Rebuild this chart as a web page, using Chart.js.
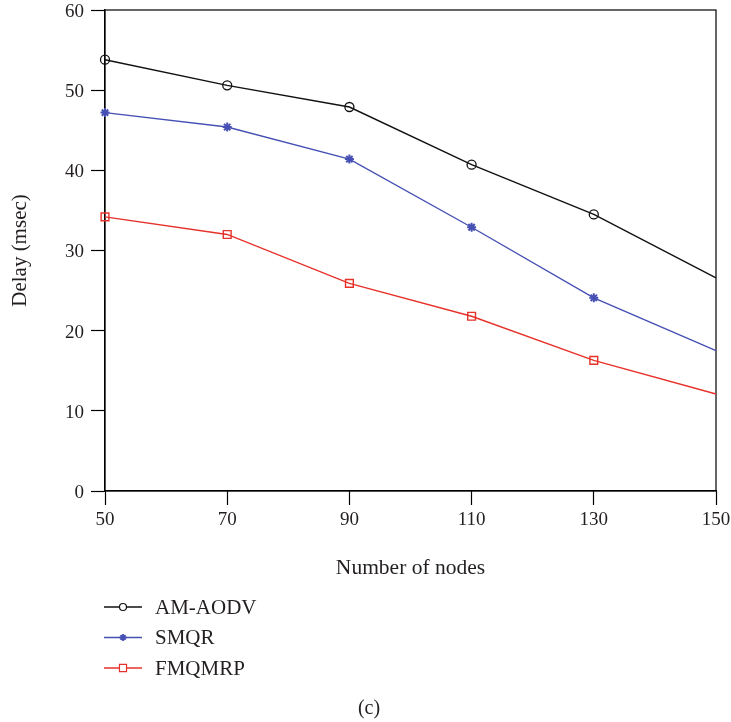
<!DOCTYPE html>
<html>
<head>
<meta charset="utf-8">
<script src="https://cdn.jsdelivr.net/npm/chart.js"></script>
<style>
  body { margin: 0; background: #fff; }
  canvas { display: block; }
</style>
</head>
<body>
<canvas id="delayChart" width="731" height="722"></canvas>
<script>
// number of nodes on the x axis
const nodes = [50, 70, 90, 110, 130, 150];
const xTicks = [50, 70, 90, 110, 130, 150];
const yTicks = [0, 10, 20, 30, 40, 50, 60];

// delay in msec per protocol
const amAodv = [53.8, 50.6, 47.9, 40.7, 34.5, 26.6];
const smqr = [47.2, 45.4, 41.4, 32.9, 24.1, 17.5];
const fmqmrp = [34.2, 32.0, 25.9, 21.8, 16.3, 12.1];

const labels = ['AM-AODV', 'SMQR', 'FMQMRP'];
const caption = '(c)';

const FONT = '"Liberation Serif", "Times New Roman", serif';
const TEXT = '#231f20';

function toPoints(values) {
    return values.map((v, i) => ({ x: nodes[i], y: v }));
}

// last sample of every series has no marker
function markerRadius(r) {
    return ctx => (ctx.dataIndex === nodes.length - 1 ? 0 : r);
}

function series(label, values, color, style, radius, markerWidth) {
    return {
        label: label,
        data: toPoints(values),
        borderColor: color,
        backgroundColor: 'transparent',
        pointBorderColor: color,
        pointBackgroundColor: 'transparent',
        borderWidth: 1.4,
        pointStyle: style,
        pointRadius: markerRadius(radius),
        pointBorderWidth: markerWidth,
        pointHoverRadius: 0,
        tension: 0,
        clip: false
    };
}

function drawMarker(c, style, x, y, r) {
    c.beginPath();
    if (style === 'circle') {
        c.arc(x, y, r, 0, Math.PI * 2);
    } else if (style === 'rect') {
        const s = Math.SQRT1_2 * r;
        c.rect(x - s, y - s, 2 * s, 2 * s);
    } else if (style === 'star') {
        const d = Math.SQRT1_2 * r;
        c.moveTo(x, y - r); c.lineTo(x, y + r);
        c.moveTo(x - r, y); c.lineTo(x + r, y);
        c.moveTo(x - d, y - d); c.lineTo(x + d, y + d);
        c.moveTo(x - d, y + d); c.lineTo(x + d, y - d);
    }
    c.stroke();
}

// box around the plot area, legend below and the panel caption
const framePlugin = {
    id: 'frame',
    beforeDatasetsDraw(chart) {
        const { ctx: c, chartArea: a } = chart;
        c.save();
        c.strokeStyle = '#000';
        c.lineWidth = 1.2;
        c.strokeRect(a.left, a.top, a.right - a.left, a.bottom - a.top);
        c.restore();
    },
    afterDraw(chart) {
        const c = chart.ctx;
        c.save();
        chart.data.datasets.forEach((ds, i) => {
            const y = 607 + i * 30.5;
            c.strokeStyle = ds.borderColor;
            c.lineWidth = 1.4;
            c.beginPath();
            c.moveTo(104, y);
            c.lineTo(142, y);
            c.stroke();
            c.fillStyle = '#fff';
            if (ds.pointStyle !== 'star') {
                c.beginPath();
                c.arc(123, y, 3.5, 0, Math.PI * 2);
                c.fill();
            }
            c.lineWidth = ds.pointStyle === 'star' ? 1.8 : 1.2;
            drawMarker(c, ds.pointStyle, 123, y, ds.pointStyle === 'rect' ? 5 : 3.5);
            c.fillStyle = TEXT;
            c.font = '21px ' + FONT;
            c.textAlign = 'left';
            c.textBaseline = 'middle';
            c.fillText(ds.label, 155, y + 1);
        });
        c.font = '20px ' + FONT;
        c.textAlign = 'center';
        c.fillText(caption, 369, 709);
        c.restore();
    }
};

new Chart(document.getElementById('delayChart'), {
    type: 'line',
    data: {
        datasets: [
            series(labels[0], amAodv, '#111111', 'circle', 4.5, 1.3),
            series(labels[1], smqr, '#4650b4', 'star', 4.5, 2),
            series(labels[2], fmqmrp, '#e6322a', 'rect', 5.5, 1.4)
        ]
    },
    options: {
        responsive: false,
        animation: false,
        events: [],
        layout: { padding: { top: 10, right: 15, bottom: 0, left: 0 } },
        plugins: {
            legend: { display: false },
            tooltip: { enabled: false }
        },
        scales: {
            x: {
                type: 'linear',
                min: 50,
                max: 150,
                afterBuildTicks: s => { s.ticks = xTicks.map(v => ({ value: v })); },
                afterFit: s => { s.height = 231; s.paddingLeft = 0; s.paddingRight = 0; },
                grid: { drawOnChartArea: false, tickLength: 14, tickColor: '#000', tickWidth: 1.2 },
                border: { color: '#000', width: 1.2 },
                ticks: { padding: 4, color: TEXT, font: { family: FONT, size: 19 } },
                title: {
                    display: true,
                    text: 'Number of nodes',
                    color: TEXT,
                    font: { family: FONT, size: 21.5 },
                    padding: { top: 0, bottom: 141 }
                }
            },
            y: {
                min: 0,
                max: 60,
                afterBuildTicks: s => { s.ticks = yTicks.map(v => ({ value: v })); },
                afterFit: s => { s.width = 105; s.paddingTop = 0; s.paddingBottom = 0; },
                grid: { drawOnChartArea: false, tickLength: 14, tickColor: '#000', tickWidth: 1.2 },
                border: { color: '#000', width: 1.2 },
                ticks: { padding: 7, labelOffset: 2, color: TEXT, font: { family: FONT, size: 19 } },
                title: {
                    display: true,
                    text: 'Delay (msec)',
                    color: TEXT,
                    font: { family: FONT, size: 21 },
                    padding: { top: 8, bottom: 0 }
                }
            }
        }
    },
    plugins: [framePlugin]
});
</script>
</body>
</html>
